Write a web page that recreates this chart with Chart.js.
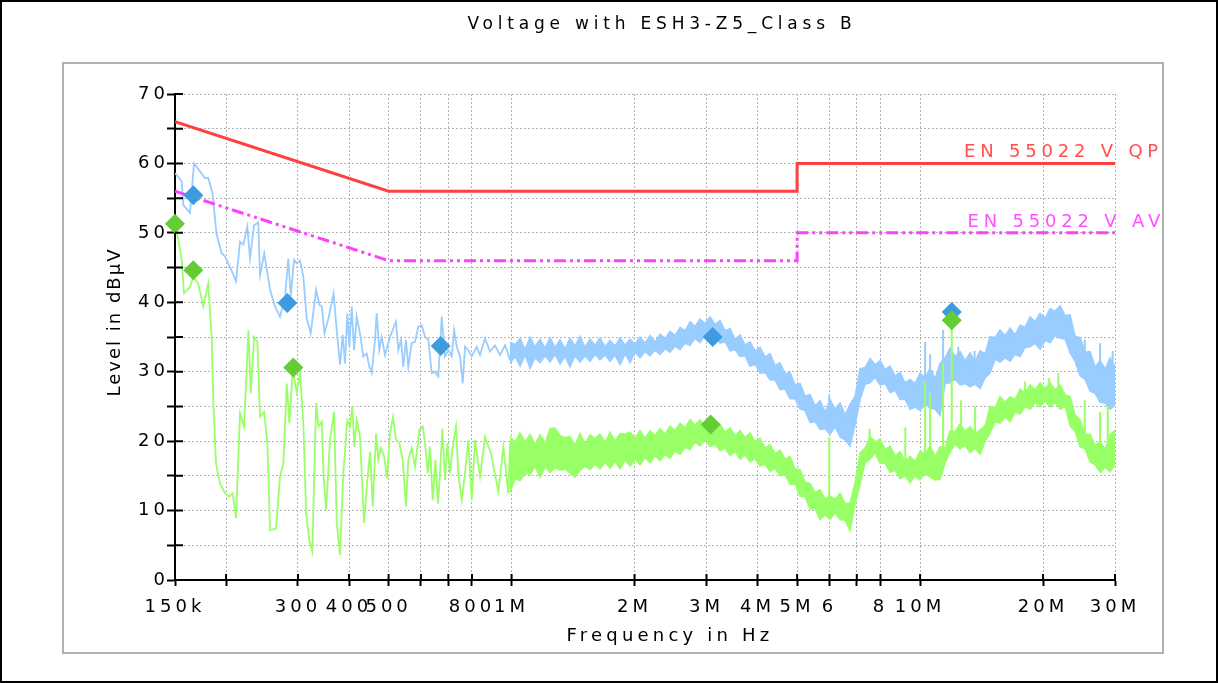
<!DOCTYPE html>
<html>
<head>
<meta charset="utf-8">
<title>Voltage with ESH3-Z5_Class B</title>
<script src="https://cdn.jsdelivr.net/npm/chart.js@4.4.1/dist/chart.umd.min.js"></script>
<style>
  html, body { margin: 0; padding: 0; background: #fff; }
  #chart { display: block; }
</style>
</head>
<body>
<canvas id="chart" width="1218" height="683"></canvas>
<script>
// frequencies in kHz, levels in dBµV

const tickFreqs = [150, 200, 300, 400, 500, 600, 700, 800, 1000, 2000, 3000, 4000, 5000, 6000, 7000, 8000, 10000, 20000, 30000]
const tickLabels = ['150k', '', '300', '400', '500', '', '', '800', '1M', '2M', '3M', '4M', '5M', '6', '', '8', '10M', '20M', '30M']

// EN 55022 class B limits
const qpFreq = [150, 500, 5000, 5000, 30000]
const qpLevel = [66, 56, 56, 60, 60]
const avFreq = [150, 500, 5000, 5000, 30000]
const avLevel = [56, 46, 46, 50, 50]

// low band, single traces (peak = blue, average = green)
const blueFreq = [
  150, 155.8, 157.2, 163.2, 167.0, 177.6, 180.9, 185.3, 189.5, 194.9,
  198.8, 204.5, 211.6, 216.4, 220.5, 225.5, 228.9, 234.2, 239.9, 242.2,
  248.1, 256.3, 263.6, 271.1, 278.9, 284.1, 288.0, 293.4, 297.9, 303.5,
  309.2, 315.1, 322.3, 332.3, 338.6, 343.2, 348.3, 356.3, 361.2, 366.7,
  373.8, 380.2, 386.0, 391.1, 396.2, 400.7, 406.2, 411.5, 417.8, 425.6,
  433.6, 442.0, 448.5, 454.6, 463.1, 467.6, 474.5, 481.0, 490.0, 496.4,
  504.0, 513.5, 521.3, 528.1, 536.2, 543.2, 551.5, 558.7, 569.5, 580.2,
  591.2, 602.7, 613.9, 625.5, 637.6, 649.5, 661.8, 674.6, 687.2, 700.2,
  713.8, 723.2, 734.3, 747.8, 759.3, 769.2, 783.7, 798.8, 821.6, 837.1,
  861.0, 885.6, 911.0, 937.0, 963.8, 991.3,
]
const blueLevel = [
  58.6, 57.4, 54.0, 52.9, 60.0, 57.9, 57.9, 55.7, 49.9, 47.1,
  46.6, 45.1, 43.0, 48.7, 48.3, 50.9, 46.3, 51.1, 51.5, 43.9,
  47.0, 41.8, 39.4, 37.9, 40.8, 46.3, 40.8, 46.1, 45.6, 46.0,
  43.7, 37.7, 35.5, 41.8, 39.6, 39.4, 35.5, 37.7, 39.4, 41.3,
  35.5, 31.0, 35.3, 31.2, 38.4, 33.6, 39.4, 33.1, 37.9, 35.5,
  32.2, 32.6, 30.7, 29.8, 34.6, 38.4, 33.1, 35.0, 32.4, 33.6,
  35.0, 36.3, 37.2, 33.1, 34.6, 30.7, 34.6, 30.7, 34.1, 34.3,
  36.5, 36.7, 35.0, 34.6, 29.8, 30.0, 29.3, 37.9, 32.2, 33.1,
  32.2, 36.0, 33.6, 32.2, 28.3, 33.6, 33.1, 32.2, 33.6, 32.4,
  34.8, 32.9, 33.8, 32.4, 33.8, 31.7,
]
const greenFreq = [
  150, 152.8, 155.8, 157.8, 163.2, 166.3, 171.0, 175.9, 180.9, 184.4,
  186.1, 189.0, 193.3, 198.8, 203.6, 207.5, 211.6, 216.4, 221.4, 226.9,
  229.9, 234.2, 238.6, 242.2, 247.8, 252.5, 256.3, 265.1, 271.1, 276.2,
  281.6, 285.8, 291.3, 297.9, 303.5, 309.2, 314.1, 319.7, 325.2, 332.3,
  336.6, 343.2, 346.3, 351.6, 359.4, 367.6, 373.3, 380.2, 387.3, 396.2,
  402.2, 407.5, 412.2, 417.8, 425.6, 435.3, 443.5, 450.3, 457.2, 465.9,
  472.0, 478.5, 487.8, 495.3, 504.0, 512.7, 521.3, 531.2, 541.4, 551.5,
  558.7, 569.5, 580.2, 594.7, 606.2, 613.9, 623.3, 631.5, 641.1, 650.6,
  660.7, 668.1, 676.8, 687.2, 696.2, 706.8, 717.6, 731.1, 740.7, 755.1,
  769.2, 783.7, 798.8, 813.8, 837.1, 861.0, 890.7, 928.0, 954.6, 981.9,
  991.3,
]
const greenLevel = [
  51.6, 49.0, 46.1, 41.3, 42.2, 43.7, 42.7, 39.4, 42.7, 35.0,
  25.9, 16.8, 13.9, 12.5, 12.0, 12.5, 8.9, 24.0, 22.1, 36.0,
  26.9, 35.0, 34.3, 23.5, 24.2, 19.7, 7.2, 7.4, 14.9, 16.8,
  28.3, 22.6, 30.2, 27.1, 29.8, 22.6, 9.6, 5.8, 4.1, 25.5,
  22.1, 22.8, 15.4, 10.1, 20.2, 24.2, 8.2, 3.6, 15.4, 23.0,
  22.1, 25.0, 19.2, 23.0, 20.6, 8.2, 14.4, 18.5, 10.6, 21.1,
  17.3, 19.0, 17.8, 14.6, 21.1, 23.5, 20.2, 19.7, 17.3, 10.6,
  17.3, 19.0, 16.3, 21.6, 22.1, 19.7, 15.4, 19.2, 11.5, 17.3,
  11.0, 15.4, 21.8, 14.4, 19.7, 15.4, 19.2, 22.1, 15.4, 11.5,
  15.4, 20.2, 11.5, 20.2, 14.9, 20.6, 18.2, 12.7, 19.2, 12.5,
  19.7,
]

// dense part of the sweep: upper / lower edge of each trace
const bandFreq = [
  991, 1020, 1049, 1079, 1110, 1141, 1174, 1208, 1242, 1278,
  1314, 1352, 1390, 1430, 1471, 1513, 1556, 1601, 1646, 1694,
  1742, 1792, 1843, 1896, 1950, 2006, 2063, 2122, 2183, 2245,
  2309, 2375, 2443, 2513, 2585, 2659, 2735, 2813, 2893, 2976,
  3061, 3149, 3239, 3331, 3426, 3524, 3625, 3729, 3835, 3945,
  4058, 4174, 4293, 4416, 4542, 4672, 4805, 4943, 5084, 5229,
  5379, 5533, 5691, 5853, 6021, 6193, 6370, 6552, 6739, 6932,
  7130, 7334, 7543, 7759, 7981, 8209, 8444, 8685, 8933, 9189,
  9451, 9722, 10000, 10285, 10579, 10882, 11193, 11513, 11842, 12181,
  12529, 12887, 13255, 13634, 14024, 14425, 14837, 15261, 15698, 16147,
  16608, 17083, 17571, 18074, 18590, 19122, 19668, 20231, 20809, 21404,
  22016, 22645, 23293, 23959, 24643, 25348, 26072, 26818, 27584, 28373,
  29184, 30000,
]
const blueHigh = [
  34.3, 33.9, 34.8, 33.2, 35.0, 33.6, 34.7, 33.4, 34.9, 33.5,
  34.6, 33.3, 34.8, 33.7, 35.1, 33.5, 34.7, 33.8, 34.9, 33.6,
  34.5, 33.7, 34.9, 33.8, 34.7, 34.0, 35.0, 34.1, 35.2, 34.3,
  35.4, 34.8, 35.8, 35.2, 36.4, 35.9, 37.2, 36.5, 37.6, 36.9,
  37.9, 36.8, 37.4, 35.9, 36.2, 34.7, 35.3, 33.8, 34.3, 33.0,
  33.5, 32.1, 32.6, 30.9, 31.3, 29.7, 29.9, 28.1, 28.3, 26.5,
  26.7, 25.1, 25.8, 24.2, 26.0, 24.6, 25.5, 23.8, 25.3, 26.5,
  30.4, 30.6, 31.9, 31.0, 31.6, 30.3, 30.8, 29.4, 29.9, 28.4,
  28.9, 28.3, 29.8, 29.1, 30.5, 29.0, 31.2, 32.0, 33.4, 32.2,
  32.9, 31.6, 32.7, 31.5, 33.0, 32.6, 35.1, 34.9, 36.0, 35.2,
  36.3, 35.3, 36.7, 36.4, 37.9, 37.2, 38.4, 37.7, 39.1, 38.7,
  39.5, 38.1, 38.2, 35.1, 34.9, 32.8, 32.9, 30.7, 31.6, 30.4,
  32.0, 30.7,
]
const blueLow = [
  31.2, 32.2, 30.8, 32.4, 30.5, 32.0, 31.3, 32.3, 31.4, 32.5,
  31.1, 32.2, 30.7, 32.3, 31.4, 32.3, 31.5, 32.5, 31.7, 32.4,
  31.5, 32.4, 31.0, 32.6, 31.3, 32.8, 32.0, 32.9, 32.3, 33.1,
  32.5, 33.3, 32.8, 33.7, 33.2, 34.1, 33.8, 34.8, 34.2, 35.3,
  34.6, 35.1, 34.1, 34.3, 33.0, 33.2, 32.2, 32.3, 30.8, 31.1,
  29.8, 29.9, 28.8, 28.8, 27.4, 27.5, 26.1, 26.1, 24.6, 24.4,
  22.7, 22.8, 21.7, 21.8, 21.0, 22.1, 20.6, 20.2, 19.3, 22.3,
  26.0, 28.2, 28.4, 29.2, 28.1, 28.3, 27.0, 27.3, 26.0, 26.0,
  24.6, 24.9, 24.4, 25.3, 24.8, 24.6, 23.7, 28.3, 28.4, 28.9,
  28.1, 28.3, 27.8, 28.2, 27.6, 29.1, 29.8, 31.8, 31.4, 32.0,
  31.5, 32.5, 32.2, 33.5, 33.6, 34.1, 33.2, 34.5, 34.2, 35.2,
  34.8, 34.7, 32.7, 31.5, 29.4, 28.9, 27.2, 26.9, 25.6, 25.5,
  24.6, 25.2,
]
const greenHigh = [
  20.7, 19.8, 21.2, 19.9, 21.0, 19.5, 20.9, 19.7, 21.8, 21.9,
  20.8, 20.5, 20.7, 19.4, 21.1, 19.6, 20.9, 20.4, 21.0, 19.8,
  21.3, 20.0, 21.1, 21.0, 21.3, 20.4, 21.5, 20.4, 21.5, 20.8,
  21.8, 21.0, 22.2, 21.5, 22.6, 21.9, 23.1, 22.3, 23.1, 22.1,
  22.9, 21.7, 22.4, 21.3, 21.9, 20.8, 21.5, 20.5, 21.2, 19.9,
  20.4, 19.0, 19.5, 18.2, 18.7, 17.4, 17.8, 16.0, 15.9, 14.1,
  13.9, 12.6, 13.0, 11.6, 12.1, 11.6, 12.5, 11.0, 11.1, 14.1,
  18.3, 19.0, 20.7, 19.9, 20.3, 18.8, 19.3, 17.9, 18.5, 17.1,
  17.8, 17.1, 18.5, 18.2, 19.3, 17.8, 19.2, 19.1, 21.5, 21.4,
  22.5, 21.4, 22.1, 21.1, 21.6, 22.2, 25.0, 24.8, 26.4, 25.6,
  26.4, 26.0, 27.5, 26.9, 28.1, 27.4, 28.4, 27.6, 28.4, 27.4,
  28.1, 26.7, 26.4, 23.8, 23.1, 21.0, 21.0, 19.4, 19.9, 18.8,
  20.9, 21.6,
]
const greenLow = [
  12.6, 14.6, 14.3, 15.4, 15.1, 16.4, 14.8, 16.3, 15.5, 16.2,
  15.8, 16.0, 15.4, 14.8, 15.8, 16.4, 15.9, 16.7, 16.0, 17.0,
  16.1, 17.1, 16.0, 17.3, 16.4, 17.4, 16.6, 17.6, 16.9, 17.9,
  17.2, 18.1, 17.5, 18.6, 18.1, 19.1, 18.8, 19.9, 19.3, 20.2,
  19.2, 19.6, 18.6, 19.0, 17.9, 18.5, 17.4, 18.0, 17.0, 17.5,
  16.4, 16.7, 15.6, 16.1, 15.0, 15.2, 13.8, 13.8, 12.1, 12.0,
  10.2, 10.3, 8.7, 9.4, 8.7, 9.7, 8.7, 8.6, 7.1, 10.9,
  13.8, 16.9, 17.4, 18.3, 16.8, 16.8, 15.5, 15.8, 14.6, 15.0,
  14.0, 15.0, 14.4, 15.4, 14.8, 14.4, 14.5, 16.9, 18.4, 19.6,
  18.9, 19.4, 18.3, 19.0, 18.1, 20.0, 21.2, 22.8, 22.6, 23.5,
  22.8, 24.2, 23.9, 25.0, 24.6, 25.6, 24.9, 25.8, 24.9, 25.6,
  24.6, 25.0, 22.2, 21.4, 19.2, 18.9, 17.0, 16.6, 15.5, 16.2,
  15.6, 16.6,
]

// narrow single-frequency spikes
const blueSpikeFreq = [5990, 10285, 10579, 11384, 12400, 13600, 25300, 27580, 29600]
const blueSpikeBase = [22, 28, 27, 28, 31, 30, 31, 30, 30]
const blueSpikeTop = [26.6, 34.3, 32.5, 36.0, 33.6, 33.0, 34.6, 34.1, 33.0]
const greenSpikeFreq = [5990, 7520, 9200, 10285, 10579, 11384, 11955, 12600, 13634, 18074, 20700, 21800, 25300, 27580, 28800]
const greenSpikeBase = [10, 19, 16, 18, 18, 18, 19, 21, 21, 26, 27, 27, 20, 18, 18]
const greenSpikeTop = [20.6, 21.8, 22.0, 28.6, 26.9, 31.2, 37.4, 25.9, 25.0, 28.6, 29.1, 29.8, 25.9, 24.2, 25.0]

// final measurement markers
const blueMarkFreq = [166.3, 282.5, 670.7, 3107, 11955]
const blueMarkLevel = [55.4, 39.9, 33.7, 35.0, 38.6]
const greenMarkFreq = [150, 166.3, 292.2, 3072, 11955]
const greenMarkLevel = [51.3, 44.6, 30.6, 22.4, 37.4]

const BLUE = '#99ccff'
const GREEN = '#99ff66'
const FONT = '"DejaVu Sans", sans-serif'
const LS = '4px'

const pts = (xs, ys) => xs.map((x, i) => ({ x, y: ys[i] }))
const spikes = (xs, lo, hi) => xs.flatMap((x, i) => [{ x, y: lo[i] }, { x, y: hi[i] }, { x, y: null }])

const trace = (label, data, color, order, extra = {}) => ({
  label,
  data,
  order,
  borderColor: color,
  backgroundColor: color,
  borderWidth: 1.8,
  pointRadius: 0,
  fill: false,
  ...extra,
})

const marks = (label, data, color, order) => ({
  label,
  data,
  order,
  showLine: false,
  clip: false,
  pointStyle: 'rectRot',
  pointRadius: 10,
  pointBackgroundColor: color,
  pointBorderWidth: 0,
})

// frame, inner ticks and all free text
const decor = {
  id: 'decor',
  beforeLayout(chart) {
    chart.ctx.letterSpacing = LS
  },
  beforeDraw(chart) {
    const ctx = chart.ctx
    ctx.letterSpacing = LS
    ctx.save()
    ctx.fillStyle = '#fff'
    ctx.fillRect(0, 0, chart.width, chart.height)
    ctx.strokeStyle = '#000'
    ctx.lineWidth = 2
    ctx.strokeRect(1, 1, chart.width - 2, chart.height - 2)
    ctx.strokeStyle = '#b0b0b0'
    ctx.strokeRect(63, 63, 1100, 590)
    ctx.restore()
  },
  afterDraw(chart) {
    const { ctx, chartArea: a } = chart
    const { x, y } = chart.scales
    ctx.save()
    ctx.strokeStyle = '#000'
    ctx.lineWidth = 2
    ctx.beginPath()
    x.ticks.forEach((t) => {
      const px = x.getPixelForValue(t.value)
      ctx.moveTo(px, a.bottom)
      ctx.lineTo(px, a.bottom - 6)
    })
    y.ticks.forEach((t) => {
      const py = y.getPixelForValue(t.value)
      ctx.moveTo(a.left, py)
      ctx.lineTo(a.left + 8, py)
    })
    ctx.stroke()

    ctx.textBaseline = 'middle'
    ctx.textAlign = 'center'
    ctx.fillStyle = '#000'
    ctx.font = '17px ' + FONT
    ctx.letterSpacing = '4.8px'
    ctx.fillText('Voltage with ESH3-Z5_Class B', 662, 25)

    ctx.font = '18px ' + FONT
    ctx.letterSpacing = '4.2px'
    ctx.fillText('Frequency in Hz', 670, 636)

    ctx.save()
    ctx.translate(115, 322)
    ctx.rotate(-Math.PI / 2)
    ctx.letterSpacing = '2px'
    ctx.fillText('Level in dBµV', 0, 0)
    ctx.restore()

    ctx.textAlign = 'right'
    ctx.letterSpacing = '4.8px'
    ctx.fillStyle = '#ff5050'
    ctx.fillText('EN 55022 V QP', 1163, y.getPixelForValue(60) - 11)
    ctx.fillStyle = '#ff50ff'
    ctx.fillText('EN 55022 V AV', 1165, y.getPixelForValue(50) - 11)
    ctx.restore()
  },
}

new Chart(document.getElementById('chart'), {
  type: 'line',
  data: {
    datasets: [
      marks('Final AV', pts(greenMarkFreq, greenMarkLevel), '#66cc33', 0),
      marks('Final QP', pts(blueMarkFreq, blueMarkLevel), '#3d9be0', 1),
      trace('EN 55022 V QP', pts(qpFreq, qpLevel), '#ff4040', 2, { borderWidth: 3 }),
      trace('EN 55022 V AV', pts(avFreq, avLevel), '#ff40ff', 3, { borderWidth: 3, borderDash: [12, 4, 3, 4, 3, 4] }),
      trace('AV spikes', spikes(greenSpikeFreq, greenSpikeBase, greenSpikeTop), GREEN, 4, { borderWidth: 2 }),
      trace('AV high', pts(bandFreq, greenHigh), GREEN, 5, { borderWidth: 1.5, fill: '+1' }),
      trace('AV low', pts(bandFreq, greenLow), GREEN, 6, { borderWidth: 1.5 }),
      trace('AV', pts(greenFreq, greenLevel), GREEN, 7),
      trace('PK spikes', spikes(blueSpikeFreq, blueSpikeBase, blueSpikeTop), BLUE, 8, { borderWidth: 2 }),
      trace('PK high', pts(bandFreq, blueHigh), BLUE, 9, { borderWidth: 1.5, fill: '+1' }),
      trace('PK low', pts(bandFreq, blueLow), BLUE, 10, { borderWidth: 1.5 }),
      trace('PK', pts(blueFreq, blueLevel), BLUE, 11),
    ],
  },
  options: {
    responsive: false,
    animation: false,
    events: [],
    layout: { padding: { left: 105, right: 103, top: 94, bottom: 43 } },
    scales: {
      x: {
        type: 'logarithmic',
        min: 150,
        max: 30000,
        afterBuildTicks: (scale) => {
          scale.ticks = tickFreqs.map((v) => ({ value: v }))
        },
        afterFit: (scale) => {
          scale.height = 60
          scale.paddingLeft = 0
          scale.paddingRight = 0
        },
        ticks: {
          autoSkip: false,
          maxRotation: 0,
          minRotation: 0,
          padding: 11,
          color: '#000',
          font: { family: FONT, size: 18 },
          callback: (v, i) => tickLabels[i],
        },
        grid: { color: '#b4b4b4', lineWidth: 1, tickColor: '#000', tickLength: 6, tickWidth: 2 },
        border: { display: true, color: '#000', width: 2, dash: [2, 2] },
      },
      y: {
        min: 0,
        max: 70,
        afterFit: (scale) => {
          scale.width = 70
          scale.paddingTop = 0
          scale.paddingBottom = 0
        },
        ticks: {
          stepSize: 5,
          autoSkip: false,
          padding: -2,
          color: '#000',
          font: { family: FONT, size: 18 },
          callback: (v) => (v % 10 === 0 ? String(v) : ''),
        },
        grid: { color: '#b4b4b4', lineWidth: 1, tickColor: '#000', tickLength: 8, tickWidth: 2 },
        border: { display: true, color: '#000', width: 2, dash: [2, 2] },
      },
    },
    plugins: {
      legend: { display: false },
      tooltip: { enabled: false },
      title: { display: false },
    },
  },
  plugins: [decor],
})
</script>
</body>
</html>
